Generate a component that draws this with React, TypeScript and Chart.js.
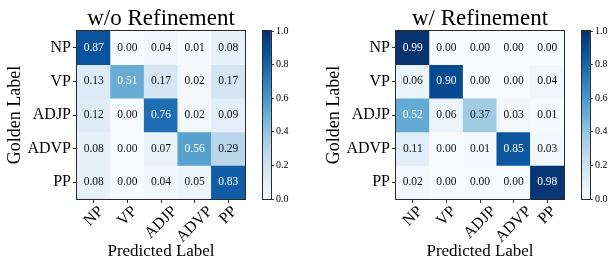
import React, { useEffect, useRef } from 'react';
import { Chart, registerables } from 'chart.js';

Chart.register(...registerables);

// ---- data ----
const CATEGORIES = ['NP', 'VP', 'ADJP', 'ADVP', 'PP'];
const TITLE_WITHOUT = 'w/o Refinement';
const TITLE_WITH = 'w/ Refinement';
const X_TITLE = 'Predicted Label';
const Y_TITLE = 'Golden Label';
const WITHOUT_REFINEMENT = [
  [0.87, 0.0, 0.04, 0.01, 0.08],
  [0.13, 0.51, 0.17, 0.02, 0.17],
  [0.12, 0.0, 0.76, 0.02, 0.09],
  [0.08, 0.0, 0.07, 0.56, 0.29],
  [0.08, 0.0, 0.04, 0.05, 0.83],
];
const WITH_REFINEMENT = [
  [0.99, 0.0, 0.0, 0.0, 0.0],
  [0.06, 0.9, 0.0, 0.0, 0.04],
  [0.52, 0.06, 0.37, 0.03, 0.01],
  [0.11, 0.0, 0.01, 0.85, 0.03],
  [0.02, 0.0, 0.0, 0.0, 0.98],
];
const COLORBAR_TICKS = [0, 0.2, 0.4, 0.6, 0.8, 1.0];

// ---- style ----
const SERIF = '"Liberation Serif", "Times New Roman", Times, serif';
const BLUES = ['#f7fbff', '#deebf7', '#c6dbef', '#9ecae1', '#6baed6', '#4292c6', '#2171b5', '#08519c', '#08306b'];

function hexToRgb(h: string) {
  const n = parseInt(h.slice(1), 16);
  return [(n >> 16) & 255, (n >> 8) & 255, n & 255];
}
function blues(v: number) {
  const t = Math.min(1, Math.max(0, v)) * 8;
  const i = Math.min(7, Math.floor(t));
  const f = t - i;
  const a = hexToRgb(BLUES[i]);
  const b = hexToRgb(BLUES[i + 1]);
  const c = a.map((x, k) => Math.round(x + (b[k] - x) * f));
  return `rgb(${c[0]},${c[1]},${c[2]})`;
}

const framePlugin = {
  id: 'frame',
  afterDraw(chart: any) {
    const { ctx, chartArea } = chart;
    ctx.save();
    ctx.strokeStyle = '#2a2a2a';
    ctx.lineWidth = 1;
    const l = Math.round(chartArea.left) - 0.5;
    const t = Math.round(chartArea.top) - 0.5;
    const r = Math.round(chartArea.right) + 0.5;
    const b = Math.round(chartArea.bottom) + 0.5;
    ctx.strokeRect(l, t, r - l, b - t);
    ctx.restore();
  },
};

function Matrix({ left, title, values }: { left: number; title: string; values: number[][] }) {
  const ref = useRef<HTMLCanvasElement>(null);
  useEffect(() => {
    if (!ref.current) return;
    const maxV = Math.max(...values.flat());
    const cellPlugin = {
      id: 'cells',
      afterDatasetsDraw(chart: any) {
        const ctx = chart.ctx;
        ctx.save();
        ctx.font = `11.5px ${SERIF}`;
        ctx.textAlign = 'center';
        ctx.textBaseline = 'middle';
        values.forEach((row, r) => {
          const meta = chart.getDatasetMeta(r);
          row.forEach((v, c) => {
            const el = meta.data[c];
            const p = el.getProps(['x', 'y', 'base'], true);
            ctx.fillStyle = v > maxV / 2 ? '#ffffff' : '#111111';
            ctx.fillText(v.toFixed(2), p.x, (p.y + p.base) / 2);
          });
        });
        ctx.restore();
      },
      afterDraw(chart: any) {
        const ctx = chart.ctx;
        const xs = chart.scales.x;
        ctx.save();
        ctx.font = `16px ${SERIF}`;
        ctx.fillStyle = '#000';
        ctx.textAlign = 'center';
        ctx.textBaseline = 'middle';
        CATEGORIES.forEach((lab, i) => {
          const x = xs.getPixelForTick(i);
          const w = ctx.measureText(lab).width;
          const cy = chart.chartArea.bottom + 5 + ((w + 14) * Math.SQRT1_2) / 2;
          ctx.save();
          ctx.translate(x, cy);
          ctx.rotate(-Math.PI / 4);
          ctx.fillText(lab, 0, 0);
          ctx.restore();
        });
        ctx.restore();
      },
    };
    const chart = new Chart(ref.current, {
      type: 'bar',
      data: {
        labels: CATEGORIES,
        datasets: values.map((row, r) => ({
          data: CATEGORIES.map(() => [r, r + 1]),
          backgroundColor: row.map((v) => blues(v)),
          borderWidth: 0,
          grouped: false,
          barPercentage: 1,
          categoryPercentage: 1,
        })) as any,
      },
      options: {
        animation: false,
        responsive: false,
        events: [],
        layout: { padding: { left: 0, right: 5, top: 0, bottom: 0 } },
        plugins: {
          legend: { display: false },
          tooltip: { enabled: false },
          title: {
            display: true,
            text: title,
            color: '#000',
            fullSize: false,
            font: { family: SERIF, size: 23, weight: 'normal', lineHeight: 1 },
            padding: { top: 7, bottom: 1 },
          },
        },
        scales: {
          x: {
            type: 'category',
            offset: true,
            grid: { offset: false, drawOnChartArea: false, drawTicks: true, tickLength: 4, color: '#333' },
            border: { display: false },
            ticks: { display: false },
            title: {
              display: true,
              text: X_TITLE,
              color: '#000',
              font: { family: SERIF, size: 17, lineHeight: 1.2 },
              padding: { top: 0, bottom: 2 },
            },
            afterFit: (s: any) => {
              s.height = 65;
            },
          },
          y: {
            type: 'linear',
            min: 0,
            max: 5,
            reverse: true,
            afterBuildTicks: (s: any) => {
              s.ticks = CATEGORIES.map((_, i) => ({ value: i + 0.5 }));
            },
            ticks: {
              callback: (v: any) => CATEGORIES[Math.floor(Number(v))],
              color: '#000',
              font: { family: SERIF, size: 16 },
              padding: 2,
            },
            grid: { drawOnChartArea: false, tickLength: 4, color: '#333' },
            border: { display: false },
            title: {
              display: true,
              text: Y_TITLE,
              color: '#000',
              font: { family: SERIF, size: 18, lineHeight: 1.2 },
              padding: { top: 4, bottom: 0 },
            },
            afterFit: (s: any) => {
              s.width = 77;
            },
          },
        },
      } as any,
      plugins: [cellPlugin, framePlugin],
    });
    return () => chart.destroy();
  }, [values, title]);
  return <canvas ref={ref} width={250} height={264} style={{ position: 'absolute', left, top: 0 }} />;
}

function ColorBar({ left }: { left: number }) {
  const ref = useRef<HTMLCanvasElement>(null);
  useEffect(() => {
    if (!ref.current) return;
    const chart = new Chart(ref.current, {
      type: 'bar',
      data: {
        labels: [''],
        datasets: [
          {
            data: [[0, 1]],
            backgroundColor: (c: any) => {
              const { ctx, chartArea } = c.chart;
              if (!chartArea) return blues(0.5);
              const g = ctx.createLinearGradient(0, chartArea.bottom, 0, chartArea.top);
              BLUES.forEach((col, i) => g.addColorStop(i / 8, col));
              return g;
            },
            borderWidth: 0,
            barPercentage: 1,
            categoryPercentage: 1,
          },
        ] as any,
      },
      options: {
        animation: false,
        responsive: false,
        events: [],
        layout: { padding: { left: 7.5, right: 2.1, top: 31, bottom: 65 } },
        plugins: { legend: { display: false }, tooltip: { enabled: false } },
        scales: {
          x: { display: false },
          y: {
            position: 'right',
            min: 0,
            max: 1,
            afterBuildTicks: (s: any) => {
              s.ticks = COLORBAR_TICKS.map((v) => ({ value: v }));
            },
            ticks: {
              callback: (v: any) => Number(v).toFixed(1),
              color: '#000',
              font: { family: SERIF, size: 10 },
              padding: 2,
            },
            grid: { drawOnChartArea: false, tickLength: 3, color: '#333' },
            border: { display: false },
            afterFit: (s: any) => {
              s.width = 30;
            },
          },
        },
      } as any,
      plugins: [framePlugin],
    });
    return () => chart.destroy();
  }, []);
  return <canvas ref={ref} width={48} height={264} style={{ position: 'absolute', left, top: 0 }} />;
}

export default function App() {
  const PANEL_SHIFT = 319;
  return (
    <div
      style={{
        position: 'fixed',
        left: 0,
        top: 0,
        width: 611,
        height: 264,
        overflow: 'hidden',
        background: '#fff',
      }}
    >
      <Matrix left={0} title={TITLE_WITHOUT} values={WITHOUT_REFINEMENT} />
      <ColorBar left={255} />
      <Matrix left={PANEL_SHIFT} title={TITLE_WITH} values={WITH_REFINEMENT} />
      <ColorBar left={PANEL_SHIFT + 255} />
    </div>
  );
}
